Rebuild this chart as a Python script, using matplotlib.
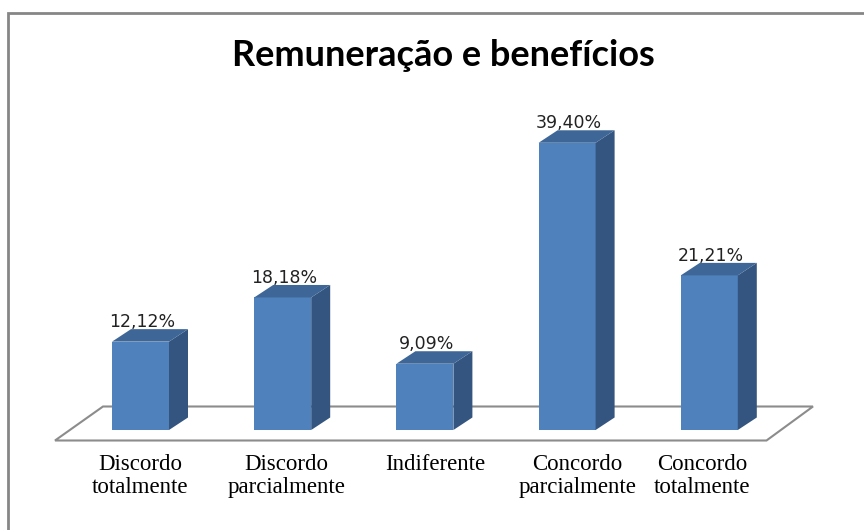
import matplotlib
matplotlib.use("Agg")
import matplotlib.pyplot as plt
from matplotlib.patches import Polygon, Rectangle

# dados do gráfico
categorias = ["Discordo\ntotalmente", "Discordo\nparcialmente", "Indiferente",
              "Concordo\nparcialmente", "Concordo\ntotalmente"]
valores = [12.12, 18.18, 9.09, 39.40, 21.21]
rotulos = ["12,12%", "18,18%", "9,09%", "39,40%", "21,21%"]

# cores estilo Excel
cor_frente = "#4F81BD"
cor_lado = "#34557F"
cor_topo = "#3E6797"

fig = plt.figure(figsize=(8.64, 5.30), dpi=100)
ax = fig.add_axes([0, 0, 1, 1])

# escala: pixel -> dados (centro da 1a barra em x=140.5, 142.2 px por categoria, base em y=430, 7.29 px por %)
px_x, x0 = 142.2, 140.5
px_y, y0 = 7.29, 430
ax.set_xlim(-x0 / px_x, (864 - x0) / px_x)
ax.set_ylim(-(530 - y0) / px_y, y0 / px_y)
ax.axis("off")

largura = 57 / px_x
dx = 19 / px_x
dy = 12.5 / px_y

# deslocamento horizontal dos rótulos das categorias (px), como no Excel
desloc = [0, 4, 10, 10, -7]

# piso em perspectiva
piso = Polygon([(-85.5 / px_x, -10.5 / px_y), (-37.5 / px_x, 23.5 / px_y),
                (672.5 / px_x, 23.5 / px_y), (626 / px_x, -10.5 / px_y)],
               closed=True, facecolor="white", edgecolor="#8C8C8C", lw=1.5, zorder=1)
ax.add_patch(piso)

for i, v in enumerate(valores):
    esq = i - largura / 2
    dir_ = i + largura / 2
    # frente
    ax.bar(i, v, width=largura, color=cor_frente, zorder=3)
    # lado
    ax.add_patch(Polygon([(dir_, 0), (dir_ + dx, dy), (dir_ + dx, v + dy), (dir_, v)],
                         closed=True, facecolor=cor_lado, edgecolor="none", zorder=3))
    # topo
    ax.add_patch(Polygon([(esq, v), (esq + dx, v + dy), (dir_ + dx, v + dy), (dir_, v)],
                         closed=True, facecolor=cor_topo, edgecolor="none", zorder=3))
    ax.text(i + 0.01, v + dy + 2 / px_y, rotulos[i], ha="center", va="baseline",
            fontsize=12.5, family="DejaVu Sans", color="#222222", zorder=4)
    ax.text(i + desloc[i] / px_x, -24 / px_y, categorias[i], ha="center", va="top",
            fontsize=16.5, family="Liberation Serif", linespacing=1.1, zorder=4)

# moldura do gráfico
fig.patches.append(Rectangle((7.5 / 864, -0.1), 1.2, (530 - 12.7) / 530 + 0.1,
                             transform=fig.transFigure, fill=False,
                             edgecolor="#868686", lw=2))

fig.text(443 / 864, 1 - 66 / 530, "Remuneração e benefícios", ha="center",
         va="baseline", fontsize=26, fontweight="bold", family="Lato")

fig.savefig("out.png", dpi=100)
